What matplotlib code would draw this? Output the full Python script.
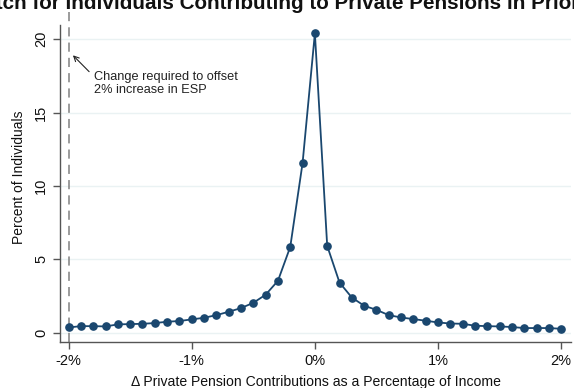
import numpy as np
import matplotlib.pyplot as plt

plt.rcParams['font.family'] = ['Liberation Sans', 'DejaVu Sans']

# change in contributions (percent of income) and share of individuals (%)
change_pct = [-2.0, -1.9, -1.8, -1.7, -1.6, -1.5, -1.4, -1.3, -1.2, -1.1, -1.0,
              -0.9, -0.8, -0.7, -0.6, -0.5, -0.4, -0.3, -0.2, -0.1, 0.0,
              0.1, 0.2, 0.3, 0.4, 0.5, 0.6, 0.7, 0.8, 0.9, 1.0,
              1.1, 1.2, 1.3, 1.4, 1.5, 1.6, 1.7, 1.8, 1.9, 2.0]
share = [0.36, 0.45, 0.45, 0.43, 0.57, 0.59, 0.61, 0.66, 0.75, 0.80, 0.91,
         1.02, 1.20, 1.43, 1.68, 2.04, 2.59, 3.54, 5.85, 11.56, 20.40,
         5.92, 3.42, 2.40, 1.84, 1.56, 1.20, 1.04, 0.93, 0.82, 0.70,
         0.63, 0.61, 0.48, 0.45, 0.43, 0.39, 0.32, 0.32, 0.32, 0.27]
x_ticks = [-2, -1, 0, 1, 2]
x_tick_labels = ['-2%', '-1%', '0%', '1%', '2%']
y_ticks = [0, 5, 10, 15, 20]

title = 'Match for Individuals Contributing to Private Pensions in Prior Year'
note = 'Change required to offset\n2% increase in ESP'

navy = '#1a476f'
axis_gray = '#555555'

fig = plt.figure(figsize=(5.74, 3.88), dpi=100)
ax = fig.add_axes([60 / 574, 46 / 388, 511 / 574, 330 / 388])

ax.set_xlim(-2.07, 2.08)
ax.set_ylim(-0.63, 21.85)

# horizontal grid
for y in y_ticks:
    ax.axhline(y, color='#eaf2f3', lw=1.0, zorder=0)

ax.axvline(-2, color='#808080', lw=1.1, ls=(0, (6, 4)), zorder=1)

ax.plot(change_pct, share, color=navy, lw=1.3, marker='o', ms=5.2,
        mec=navy, mfc=navy, zorder=3)

ax.annotate(note, xy=(-1.965, 18.9), xytext=(-1.795, 16.95),
            fontsize=9.2, color='#222222', va='center', ha='left',
            linespacing=1.1,
            arrowprops=dict(arrowstyle='->', color='#222222', lw=0.8,
                            shrinkA=2, shrinkB=0, relpos=(0, 0.8)))

for side in ['top', 'right']:
    ax.spines[side].set_visible(False)
for side in ['left', 'bottom']:
    ax.spines[side].set_color(axis_gray)
    ax.spines[side].set_linewidth(1.0)
ax.spines['left'].set_bounds(-0.63, 20.96)

ax.set_xticks(x_ticks)
ax.set_xticklabels(x_tick_labels)
ax.set_yticks(y_ticks)
ax.set_yticklabels([str(v) for v in y_ticks], rotation=90, va='center')
ax.tick_params(axis='both', direction='out', length=5, width=1.0,
               color=axis_gray, labelsize=10.5, labelcolor='#111111')

ax.set_xlabel('\u0394 Private Pension Contributions as a Percentage of Income',
              fontsize=10.1, color='#111111', labelpad=5)
ax.set_ylabel('Percent of Individuals', fontsize=10, color='#111111', labelpad=6)

fig.text(-0.058, 0.992, title, ha='left', va='center', fontsize=14.9,
         fontweight='bold', color='#111111')

fig.savefig('out.png', dpi=100)
